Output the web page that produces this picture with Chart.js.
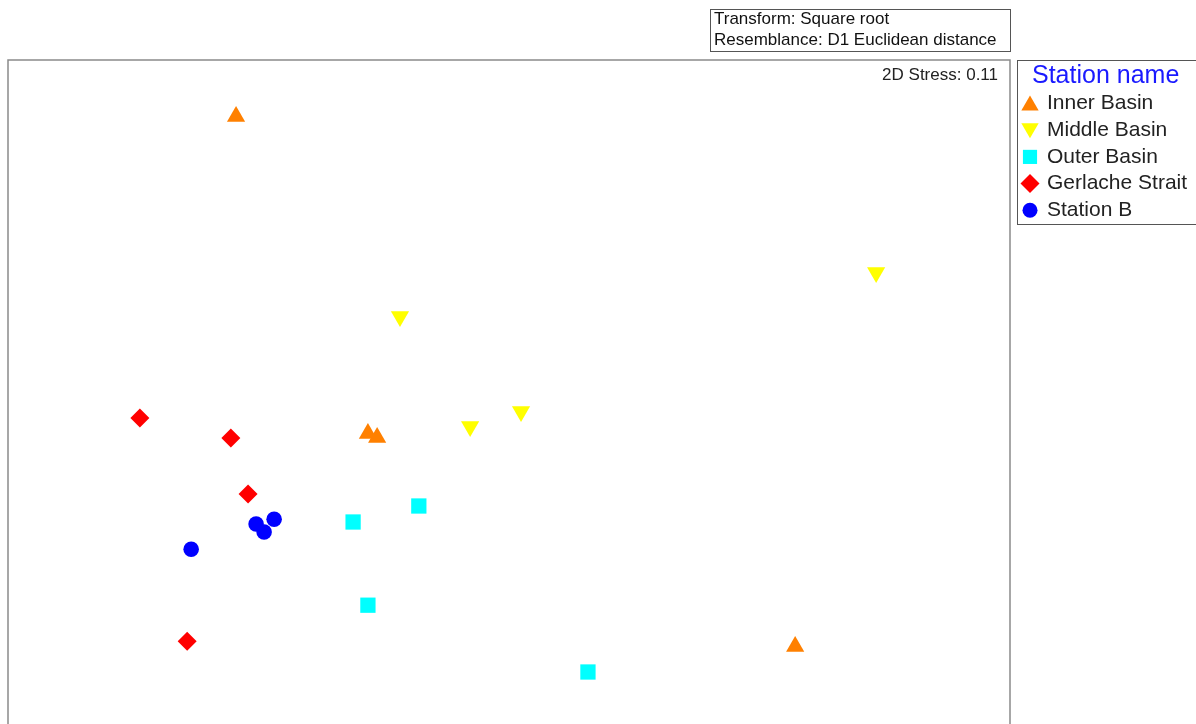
<!DOCTYPE html>
<html>
<head>
<meta charset="utf-8">
<script src="https://cdn.jsdelivr.net/npm/chart.js@4/dist/chart.umd.min.js"></script>
<style>
  html, body { margin: 0; padding: 0; background: #ffffff; }
  #wrap { width: 1196px; height: 724px; position: relative; }
</style>
</head>
<body>
<div id="wrap"><canvas id="c" width="1196" height="724"></canvas></div>
<script>
// nMDS ordination coordinates (dimension 1, dimension 2) per station group
const innerBasinX    = [-0.681, -0.352, -0.329,  0.714];
const innerBasinY    = [ 0.689, -0.104, -0.114, -0.636];
const middleBasinX   = [ 0.916, -0.272, -0.097,  0.030];
const middleBasinY   = [ 0.299,  0.189, -0.086, -0.049];
const outerBasinX    = [-0.389, -0.225, -0.352,  0.197];
const outerBasinY    = [-0.325, -0.285, -0.533, -0.700];
const gerlacheX      = [-0.921, -0.694, -0.651, -0.803];
const gerlacheY      = [-0.065, -0.115, -0.255, -0.623];
const stationBX      = [-0.793, -0.631, -0.611, -0.586];
const stationBY      = [-0.393, -0.330, -0.350, -0.318];

const groupNames = ['Inner Basin', 'Middle Basin', 'Outer Basin', 'Gerlache Strait', 'Station B'];
const legendTitle = 'Station name';
const stressLabel = '2D Stress: 0.11';
const headerLines = ['Transform: Square root', 'Resemblance: D1 Euclidean distance'];

const toPoints = (xs, ys) => xs.map((x, i) => ({ x: x, y: ys[i] }));

const styles = [
  { color: '#ff8000', pointStyle: 'triangle', radius: 10.5, rotation: 0 },
  { color: '#ffff00', pointStyle: 'triangle', radius: 10.5, rotation: 180 },
  { color: '#00ffff', pointStyle: 'rect',     radius: 10.8, rotation: 0 },
  { color: '#ff0000', pointStyle: 'rectRot',  radius: 9.5,  rotation: 0 },
  { color: '#0000ff', pointStyle: 'circle',   radius: 7.8,  rotation: 0 }
];

const series = [
  toPoints(innerBasinX, innerBasinY),
  toPoints(middleBasinX, middleBasinY),
  toPoints(outerBasinX, outerBasinY),
  toPoints(gerlacheX, gerlacheY),
  toPoints(stationBX, stationBY)
];

const datasets = series.map((pts, i) => ({
  label: groupNames[i],
  data: pts,
  pointStyle: styles[i].pointStyle,
  pointRadius: styles[i].radius,
  pointRotation: styles[i].rotation,
  pointBackgroundColor: styles[i].color,
  pointBorderColor: styles[i].color,
  pointBorderWidth: 0,
  backgroundColor: styles[i].color,
  borderColor: styles[i].color
}));

const FONT = 'Arial, "Liberation Sans", sans-serif';

// Frame, header box, stress note and the group key
const decorations = {
  id: 'decorations',
  afterDraw(chart) {
    const ctx = chart.ctx;
    const a = chart.chartArea;
    ctx.save();

    // plot frame (bottom edge runs below the canvas)
    ctx.strokeStyle = '#8a8a8a';
    ctx.lineWidth = 1.5;
    ctx.strokeRect(a.left, a.top, a.right - a.left, a.bottom - a.top + 20);

    // header box
    ctx.lineWidth = 1;
    ctx.strokeStyle = '#555555';
    ctx.strokeRect(710.5, 9.5, 300, 42);
    ctx.fillStyle = '#111111';
    ctx.font = '17px ' + FONT;
    ctx.textBaseline = 'middle';
    ctx.textAlign = 'left';
    ctx.fillText(headerLines[0], 714, 19.5);
    ctx.fillText(headerLines[1], 714, 40);

    // stress note
    ctx.font = '17px ' + FONT;
    ctx.textAlign = 'right';
    ctx.fillStyle = '#222222';
    ctx.fillText(stressLabel, a.right - 12, 75);

    // key box
    ctx.strokeStyle = '#555555';
    ctx.strokeRect(1017.5, 60.5, 200, 164);
    ctx.textAlign = 'left';
    ctx.fillStyle = '#1a1aff';
    ctx.font = '25px ' + FONT;
    ctx.fillText(legendTitle, 1032, 76);

    ctx.font = '21px ' + FONT;
    chart.data.datasets.forEach((ds, i) => {
      const y = 103.5 + i * 26.7;
      ctx.fillStyle = ds.pointBackgroundColor;
      ctx.strokeStyle = ds.pointBackgroundColor;
      const r = ds.pointStyle === 'circle' ? 7.5 : (ds.pointStyle === 'rectRot' ? 9.5 : 10);
      const yOff = ds.pointStyle === 'triangle' ? (ds.pointRotation ? -2 : 2) : 0;
      Chart.helpers.drawPoint(ctx, {
        pointStyle: ds.pointStyle,
        radius: r,
        rotation: ds.pointRotation,
        borderWidth: 0
      }, 1030, y + yOff);
      ctx.fillStyle = '#222222';
      ctx.fillText(ds.label, 1047, y);
    });

    ctx.restore();
  }
};

new Chart(document.getElementById('c'), {
  type: 'scatter',
  data: { datasets: datasets },
  options: {
    responsive: false,
    animation: false,
    devicePixelRatio: 1,
    layout: { autoPadding: false, padding: { left: 8, top: 60, right: 186, bottom: 0 } },
    scales: {
      x: { type: 'linear', min: -1.25, max: 1.25, display: false },
      y: { type: 'linear', min: -0.83, max: 0.83, display: false }
    },
    plugins: {
      legend: { display: false },
      tooltip: { enabled: false }
    }
  },
  plugins: [decorations]
});
</script>
</body>
</html>
